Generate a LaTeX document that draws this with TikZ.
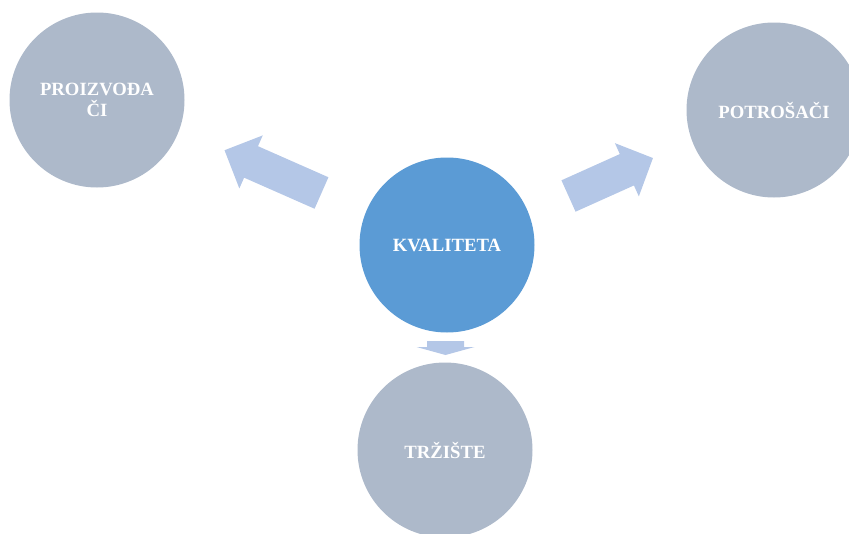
\documentclass[tikz,border=0pt]{standalone}
\usepackage{fontspec}
\setmainfont{Liberation Serif}
\definecolor{circgray}{HTML}{ADB9CA}
\definecolor{circblue}{HTML}{5B9BD5}
\definecolor{arrowblue}{HTML}{B4C7E7}
\tikzset{
  bubble/.style={circle, fill=circgray, draw=none, minimum size=175pt, inner sep=0pt,
    text=white, font=\bfseries\fontsize{18.7}{21}\selectfont, align=center},
  center bubble/.style={bubble, fill=circblue},
  blockarrow/.style={fill=arrowblue, draw=none}
}
\begin{document}
\begin{tikzpicture}[x=1pt,y=-1pt]
\useasboundingbox (0,0) rectangle (849,533);
\clip (0,0) rectangle (849,533);
% circles
\node[bubble] (proizvodaci) at (97,100) {PROIZVOĐA\\ČI};
\node[bubble] (potrosaci) at (774,110) {POTROŠAČI};
\node[center bubble] (kvaliteta) at (447,245) {KVALITETA};
\node[bubble] (trziste) at (445,450) {TRŽIŠTE};
% block arrows (tail at origin, pointing along +x)
\begin{scope}[shift={(321.5,193)}, rotate=156.2]
  \fill[blockarrow] (0,-17.2) -- (77,-17.2) -- (77,-29) -- (106,0) -- (77,29) -- (77,17.2) -- (0,17.2) -- cycle;
\end{scope}
\begin{scope}[shift={(568.5,196)}, rotate=24.2]
  \fill[blockarrow] (0,-17.2) -- (64,-17.2) -- (64,-29.2) -- (92.6,0) -- (64,29.2) -- (64,17.2) -- (0,17.2) -- cycle;
\end{scope}
\begin{scope}[shift={(445.5,341)}, rotate=-90]
  \fill[blockarrow] (0,-18.5) -- (6,-18.5) -- (6,-29) -- (14,0) -- (6,29) -- (6,18.5) -- (0,18.5) -- cycle;
\end{scope}
\end{tikzpicture}
\end{document}
